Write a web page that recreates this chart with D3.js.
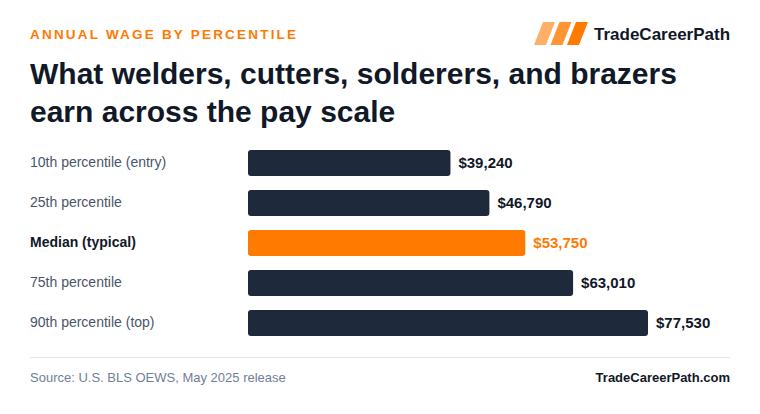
<!DOCTYPE html>
<html>
<head>
<meta charset="utf-8">
<title>welder wages</title>
<style>
  body { margin: 0; background: #fff; }
  svg { font-family: "Liberation Sans", Arial, sans-serif; display: block; }
</style>
</head>
<body>
<div id="chart"></div>
<script src="https://d3js.org/d3.v7.min.js"></script>
<script>
var categories = ["10th percentile (entry)", "25th percentile", "Median (typical)", "75th percentile", "90th percentile (top)"];
var wages = [39240, 46790, 53750, 63010, 77530];
var highlight = "Median (typical)";

var w = 760, h = 414;
var navy = "#1e293b", orange = "#ff7a00";

var svg = d3.select("#chart").append("svg")
  .attr("width", w)
  .attr("height", h);

// header
svg.append("text")
  .attr("x", 30).attr("y", 39)
  .attr("fill", orange)
  .attr("font-size", 13.5)
  .attr("font-weight", 700)
  .attr("letter-spacing", 2.2)
  .text("ANNUAL WAGE BY PERCENTILE");

// logo stripes
var stripeColors = ["#ffb066", "#ff9633", "#ff7a00"];
var logo = svg.append("g").attr("transform", "translate(534,22)");
logo.selectAll("path")
  .data(stripeColors)
  .enter()
  .append("path")
  .attr("d", function(d, i) {
    var x0 = i * 16.5;
    return "M" + (x0 + 9) + ",0 L" + (x0 + 21) + ",0 L" + (x0 + 12) + ",23 L" + x0 + ",23 Z";
  })
  .attr("fill", function(d) { return d; });

svg.append("text")
  .attr("x", 594).attr("y", 39.5)
  .attr("fill", "#111827")
  .attr("font-size", 17)
  .attr("font-weight", 700)
  .text("TradeCareerPath");

var title = svg.append("text")
  .attr("fill", "#111827")
  .attr("font-size", 30)
  .attr("font-weight", 700);
title.append("tspan").attr("x", 30).attr("y", 84).text("What welders, cutters, solderers, and brazers");
title.append("tspan").attr("x", 30).attr("y", 122).text("earn across the pay scale");

// scales
var x = d3.scaleLinear()
  .domain([0, d3.max(wages)])
  .range([248, 648]);

var y = d3.scaleBand()
  .domain(categories)
  .range([143, 343])
  .paddingInner(0.35)
  .paddingOuter(0.175);

var rows = svg.selectAll(".row")
  .data(categories)
  .enter()
  .append("g")
  .attr("class", "row");

rows.append("text")
  .attr("x", 30)
  .attr("y", function(d) { return y(d) + y.bandwidth() / 2; })
  .attr("dy", ".3em")
  .attr("font-size", 14)
  .attr("font-weight", function(d) { return d === highlight ? 700 : 400; })
  .attr("fill", function(d) { return d === highlight ? "#111827" : "#4a5568"; })
  .text(function(d) { return d; });

rows.append("rect")
  .attr("x", x(0))
  .attr("y", function(d) { return y(d); })
  .attr("height", y.bandwidth())
  .attr("width", function(d, i) { return x(wages[i]) - x(0); })
  .attr("rx", 3)
  .attr("fill", function(d) { return d === highlight ? orange : navy; });

rows.append("text")
  .attr("x", function(d, i) { return x(wages[i]) + 8; })
  .attr("y", function(d) { return y(d) + y.bandwidth() / 2; })
  .attr("dy", ".32em")
  .attr("font-size", 15)
  .attr("font-weight", 700)
  .attr("fill", function(d) { return d === highlight ? orange : "#111827"; })
  .text(function(d, i) { return "$" + d3.format(",")(wages[i]); });

// footer
svg.append("line")
  .attr("x1", 30).attr("x2", 730)
  .attr("y1", 357.5).attr("y2", 357.5)
  .attr("stroke", "#e2e8f0");

svg.append("text")
  .attr("x", 30).attr("y", 382)
  .attr("font-size", 13)
  .attr("fill", "#718096")
  .text("Source: U.S. BLS OEWS, May 2025 release");

svg.append("text")
  .attr("x", 730).attr("y", 382)
  .attr("text-anchor", "end")
  .attr("font-size", 13)
  .attr("font-weight", 700)
  .attr("fill", "#111827")
  .text("TradeCareerPath.com");
</script>
</body>
</html>
